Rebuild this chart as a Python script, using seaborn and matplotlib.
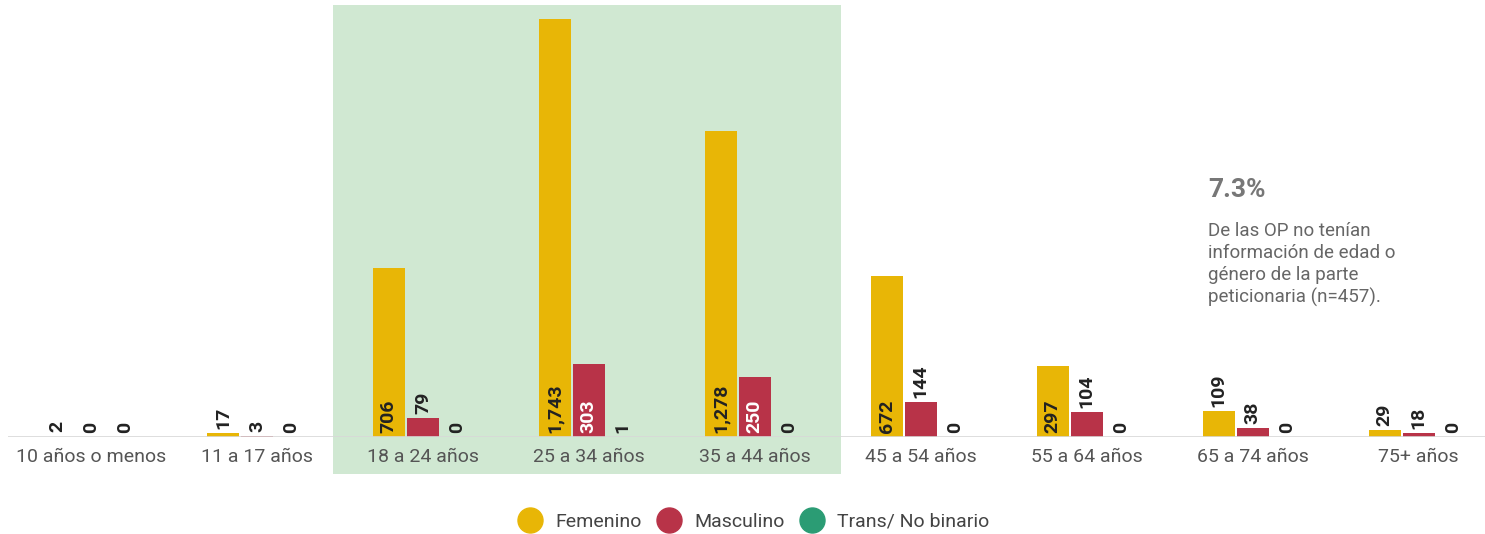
import pandas as pd
import matplotlib
matplotlib.use('Agg')
import matplotlib.pyplot as plt
import matplotlib.transforms as mtransforms
from matplotlib.patches import Rectangle
from matplotlib.lines import Line2D
import seaborn as sns

# age groups and counts per gender
edades = ['10 años o menos', '11 a 17 años', '18 a 24 años', '25 a 34 años',
          '35 a 44 años', '45 a 54 años', '55 a 64 años', '65 a 74 años', '75+ años']
femenino = [2, 17, 706, 1743, 1278, 672, 297, 109, 29]
masculino = [0, 3, 79, 303, 250, 144, 104, 38, 18]
trans = [0, 0, 0, 1, 0, 0, 0, 0, 0]
generos = ['Femenino', 'Masculino', 'Trans/ No binario']
colores = ['#E8B606', '#B83348', '#2B9C74']

df = pd.DataFrame({
    'edad': edades * 3,
    'genero': [g for g in generos for _ in edades],
    'n': femenino + masculino + trans,
})

sns.set_style('white')
plt.rcParams['font.family'] = ['Roboto', 'DejaVu Sans']

fig = plt.figure(figsize=(14.85, 5.34), dpi=100)
ax = fig.add_axes([8 / 1485, 97 / 534, 1 - 8 / 1485, 431.6 / 534])

# highlighted band behind 18-44
trans_band = mtransforms.blended_transform_factory(ax.transData, ax.transAxes)
ax.add_patch(Rectangle((1.458, -0.086), 3.061, 1.086, transform=trans_band,
                       facecolor='#D0E8D2', edgecolor='none', clip_on=False, zorder=0))

sns.barplot(data=df, x='edad', y='n', hue='genero', palette=colores, saturation=1,
            width=0.615, gap=0.06, ax=ax, legend=False, zorder=2,
            edgecolor='none', linewidth=0)

ax.set_xlim(-0.5, 8.40)
ax.set_ylim(0, 1800)
for s in ax.spines.values():
    s.set_visible(False)
ax.axhline(0, color='#D8D8D8', lw=1.2, zorder=3)
ax.set_yticks([])
ax.set_xlabel('')
ax.set_ylabel('')
ax.tick_params(axis='x', length=0, pad=8, labelsize=14, labelcolor='#555555')

# value labels
for k, cont in enumerate(ax.containers):
    vals = [femenino, masculino, trans][k]
    for bar, v in zip(cont, vals):
        x = bar.get_x() + bar.get_width() / 2
        if v >= 200:
            col = 'white' if k == 1 else '#222222'
            ax.annotate(f'{v:,}', (x, 0), xytext=(0, 3), textcoords='offset points',
                        rotation=90, ha='center', va='bottom', fontsize=14,
                        fontweight='bold', color=col, zorder=4)
        else:
            ax.annotate(f'{v:,}', (x, v), xytext=(0, 3), textcoords='offset points',
                        rotation=90, ha='center', va='bottom', fontsize=14,
                        fontweight='bold', color='#222222', zorder=4)

# side note
fig.text(1208 / 1485, 1 - 190 / 534, '7.3%', fontsize=19, fontweight='bold',
         color='#777777', va='center', ha='left')
fig.text(1208 / 1485, 1 - 222 / 534,
         'De las OP no tenían\ninformación de edad o\ngénero de la parte\npeticionaria (n=457).',
         fontsize=13.5, color='#666666', va='top', ha='left', linespacing=1.27)

handles = [Line2D([], [], marker='o', ls='none', markersize=18,
                  markerfacecolor=c, markeredgecolor=c) for c in colores]
fig.legend(handles, generos, loc='center', bbox_to_anchor=(0.505, 1 - 522 / 534),
           ncol=3, frameon=False, fontsize=14, handletextpad=0.3, columnspacing=0.4,
           labelcolor='#444444')

fig.savefig('out.png', dpi=100)
